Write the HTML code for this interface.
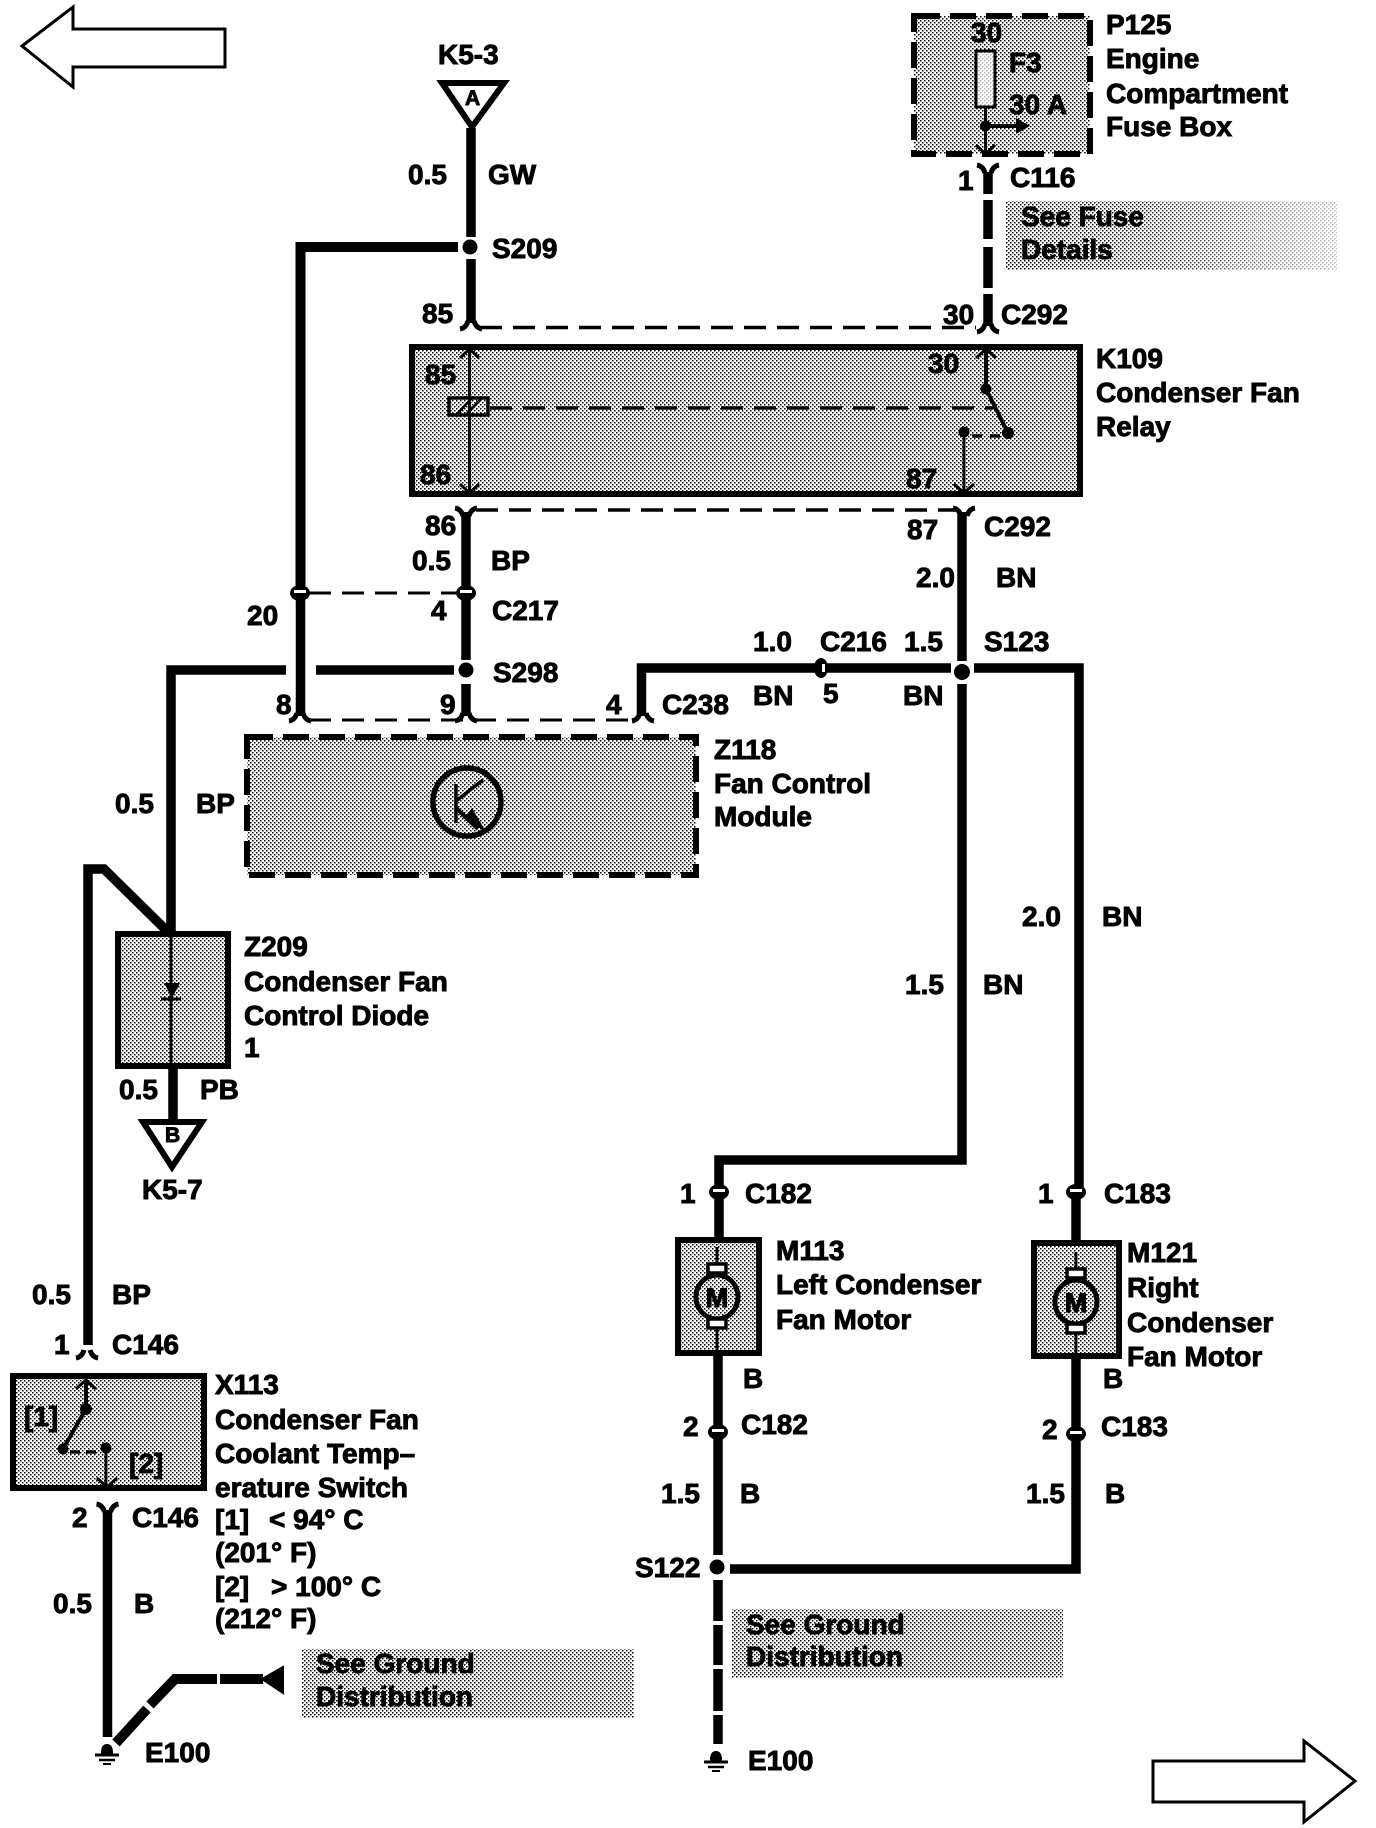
<!DOCTYPE html>
<html><head><meta charset="utf-8"><style>
html,body{margin:0;padding:0;background:#fff;width:1376px;height:1828px;overflow:hidden}
svg{display:block}
text{font-family:"Liberation Sans",sans-serif;font-weight:bold;font-size:28px;fill:#000;stroke:#000;stroke-width:.9px}
.w{fill:none;stroke:#000;stroke-width:9.5;stroke-linejoin:miter}
.t{fill:none;stroke:#000;stroke-width:3}
.d{fill:none;stroke:#000;stroke-width:3.5;stroke-dasharray:22 11}
.b{stroke:#000;stroke-width:6;fill:url(#dots)}
.bd{stroke:#000;stroke-width:6;fill:url(#dots);stroke-dasharray:26 10}
.f{fill:none;stroke:#000;stroke-width:5}
</style></head><body>
<svg width="1376" height="1828" viewBox="0 0 1376 1828" xmlns="http://www.w3.org/2000/svg">
<defs>
<pattern id="dots" width="4" height="4" patternUnits="userSpaceOnUse"><rect width="4" height="4" fill="#fff"/><rect x="0" y="0" width="1.5" height="1.5" fill="#000"/><rect x="2" y="2" width="1.5" height="1.5" fill="#000"/></pattern>
<linearGradient id="fade" x1="0" x2="1" y1="0" y2="0"><stop offset="0" stop-color="#fff" stop-opacity="0"/><stop offset=".4" stop-color="#fff" stop-opacity=".1"/><stop offset="1" stop-color="#fff" stop-opacity=".75"/></linearGradient>
<g id="dn"><path d="M-11 2 Q-5 1 -3 -6 M11 2 Q5 1 3 -6" class="f"/></g>
<g id="up"><path d="M-11 -2 Q-5 -1 -3 6 M11 -2 Q5 -1 3 6" class="f"/></g>
<g id="c"><ellipse rx="10" ry="8" fill="#000"/><rect x="-6" y="-3" width="12" height="3" fill="#fff"/></g>
<g id="gnd"><path d="M-5 8 Q-5 0 0 0 Q5 0 5 8Z" fill="#000" stroke="#000" stroke-width="2"/><path d="M-12 10H12" stroke="#000" stroke-width="3"/><path d="M-8 15H8" stroke="#000" stroke-width="2.5"/><path d="M-4 19H4" stroke="#000" stroke-width="2"/></g>
<g id="motor"><ellipse rx="21" ry="22" fill="none" stroke="#000" stroke-width="5"/><rect x="-9" y="-33" width="18" height="9" fill="#fff" stroke="#000" stroke-width="3.5"/><rect x="-9" y="22" width="18" height="9" fill="#fff" stroke="#000" stroke-width="3.5"/><path d="M0 -50V-33M0 31V55" class="t"/><text x="0" y="10" text-anchor="middle" style="font-size:27px;stroke-width:1.2px">M</text></g>
</defs>

<!-- page arrows -->
<path d="M22 46L73 7V29H225V67H73V87Z" fill="#fff" stroke="#000" stroke-width="3"/>
<path d="M1153 1761H1304V1741L1355 1781L1304 1822V1802H1153Z" fill="#fff" stroke="#000" stroke-width="3"/>

<!-- gray boxes -->
<rect x="1006" y="201" width="331" height="69" fill="url(#dots)"/><rect x="1006" y="201" width="331" height="69" fill="url(#fade)"/>
<rect x="302" y="1649" width="332" height="69" fill="url(#dots)"/>
<rect x="732" y="1609" width="331" height="69" fill="url(#dots)"/>

<!-- component boxes -->
<rect x="412" y="347" width="668" height="147" class="b"/>
<rect x="914" y="16" width="176" height="138" class="bd"/>
<rect x="247" y="737" width="449" height="138" class="bd"/>
<rect x="118" y="934" width="110" height="132" class="b"/>
<rect x="13" y="1376" width="191" height="112" class="b"/>
<rect x="678" y="1240" width="81" height="113" class="b"/>
<rect x="1034" y="1243" width="85" height="113" class="b"/>

<!-- dashed connector bars -->
<path d="M480 327.5H976" class="d"/>
<path d="M476 510H956" class="d"/>
<path d="M309 593H456" class="d" style="stroke-width:3"/>
<path d="M309 720H634" class="d" style="stroke-width:3"/>

<!-- triangles -->
<path d="M442 83H504L472 127Z" fill="#fff" stroke="#000" stroke-width="6"/>
<path d="M143 1122H202L172 1167Z" fill="#fff" stroke="#000" stroke-width="6"/>

<!-- wires -->
<path d="M471 128V237M471 259V323" class="w"/>
<path d="M458 247H300.500V588" class="w" style="stroke-width:10"/>
<path d="M300.500 597V716" class="w"/>
<path d="M466 512V590M466 597V660M466 684V716" class="w"/>
<path d="M286 670H171V932" class="w"/>
<path d="M316 670H454" class="w"/>
<path d="M88 1345V869H104L168 932" class="w"/>
<path d="M173 1066V1121" class="w"/>
<path d="M641.500 716V668H951" class="w"/>
<path d="M962 512V661M962 684V1160H719V1188" class="w"/>
<path d="M974 668H1079V1190" class="w"/>
<path d="M719 1196V1240" class="w"/>
<path d="M1076 1196V1243" class="w"/>
<path d="M718 1354V1426M718 1438V1555" class="w"/>
<path d="M718 1580V1621M718 1625V1665M718 1669V1711M718 1715V1744" class="w"/>
<path d="M730 1569H1076V1358" class="w"/>
<path d="M988 172V194M988 200V239M988 247V288M988 294V326" class="w"/>
<path d="M107.500 1510V1737" class="w"/>
<path d="M116 1743L147 1709M150 1705L175 1679H217M220 1679H263" class="w" style="stroke-width:10"/>
<path d="M262 1679L283 1667V1693Z" fill="#000" stroke="#000" stroke-width="2"/>

<!-- splice dots -->
<circle cx="470" cy="247" r="7.500"/><circle cx="466" cy="670" r="7.500"/><circle cx="962" cy="672" r="8"/><circle cx="717" cy="1567" r="7.500"/>

<!-- connector ends -->
<use href="#dn" x="471" y="327"/><use href="#dn" x="988" y="330"/>
<use href="#up" x="466" y="510"/><use href="#up" x="964" y="510"/>
<use href="#up" x="988" y="167"/><use href="#up" x="107.500" y="1506"/>
<use href="#dn" x="300" y="719"/><use href="#dn" x="466" y="719"/><use href="#dn" x="643" y="719"/>
<use href="#dn" x="87" y="1356"/>
<use href="#c" x="300" y="593"/><use href="#c" x="466" y="593"/>
<use href="#c" x="719" y="1192"/><use href="#c" x="1076" y="1192"/>
<use href="#c" x="718" y="1432"/><use href="#c" x="1076" y="1434"/>
<ellipse cx="821" cy="668" rx="7" ry="10"/><rect x="822" y="664" width="3" height="8" fill="#fff"/>

<!-- K109 internals -->
<path d="M469.500 351V491" class="t"/>
<path d="M460 358L469.500 349L479 358M460 484L469.500 493L479 484" class="t"/>
<rect x="449" y="398" width="39" height="17" fill="none" stroke="#000" stroke-width="3.500"/>
<path d="M456 415L472 398M466 415L482 398" stroke="#000" stroke-width="2.500"/>
<path d="M490 408H993" class="d"/>
<path d="M986 351V389L1008 433" class="t" style="stroke-width:4"/>
<path d="M976 358L986 349L996 358" class="t"/>
<circle cx="986" cy="389" r="5.500"/><circle cx="1008" cy="433" r="6"/><circle cx="964" cy="432" r="5.500"/>
<path d="M964 432V491M954 484L964 493L974 484" class="t"/>
<path d="M972 436H1002" class="d" style="stroke-dasharray:10 8"/>

<!-- P125 internals -->
<rect x="976" y="51" width="19" height="56" fill="#fff" stroke="#000" stroke-width="3" fill-opacity=".7"/>
<path d="M985.500 107V153M976 145L985.500 154L995 145" class="t"/>
<circle cx="985.500" cy="126" r="5.500"/>
<path d="M985 126H1018" stroke="#000" stroke-width="4"/><path d="M1016 118L1030 126L1016 134Z"/>

<!-- Transistor -->
<circle cx="467" cy="802" r="34" fill="none" stroke="#000" stroke-width="5.500"/>
<path d="M456 784V823M456 801L483 780" stroke="#000" stroke-width="3.500" fill="none"/>
<path d="M456 808L478 829" stroke="#000" stroke-width="4"/><path d="M464 818L472 808L486 832Z"/>

<!-- Diode -->
<path d="M171 934V1066" class="t"/>
<path d="M164 983H180L172 998Z"/><path d="M161 999H181" stroke="#000" stroke-width="3"/>

<!-- X113 internals -->
<path d="M86 1382V1409L63 1449" class="t" style="stroke-width:4"/>
<path d="M76 1389L86 1380L96 1389" class="t"/>
<circle cx="86" cy="1409" r="6"/><circle cx="63" cy="1449" r="5.500"/><circle cx="106" cy="1448" r="5.500"/>
<path d="M106 1448V1486M97 1478L107 1487L117 1478" class="t"/>
<path d="M70 1452H98" class="d" style="stroke-dasharray:10 6"/>

<!-- motors -->
<use href="#motor" x="717" y="1297"/><use href="#motor" x="1076" y="1302"/>

<!-- ground -->
<use href="#gnd" x="107" y="1745"/><use href="#gnd" x="716" y="1752"/>

<!-- labels -->
<text x="438" y="64">K5-3</text>
<text x="465" y="105" style="font-size:21px">A</text>
<text x="408" y="184">0.5</text><text x="488" y="184">GW</text>
<text x="492" y="258">S209</text>
<text x="422" y="323">85</text>
<text x="425" y="384">85</text><text x="420" y="484">86</text>
<text x="425" y="535">86</text>
<text x="412" y="570">0.5</text><text x="491" y="570">BP</text>
<text x="247" y="625">20</text><text x="431" y="620">4</text><text x="492" y="620">C217</text>
<text x="493" y="682">S298</text>
<text x="276" y="714">8</text><text x="440" y="714">9</text><text x="606" y="714">4</text><text x="662" y="714">C238</text>

<text x="1106" y="34">P125</text><text x="1106" y="68">Engine</text><text x="1106" y="103">Compartment</text><text x="1106" y="136">Fuse Box</text>
<text x="971" y="42">30</text><text x="1009" y="72">F3</text><text x="1009" y="114">30 A</text>
<text x="958" y="190">1</text><text x="1010" y="187">C116</text>
<text x="1021" y="226">See Fuse</text><text x="1021" y="259">Details</text>
<text x="943" y="324">30</text><text x="1001" y="324">C292</text>
<text x="928" y="373">30</text><text x="906" y="488">87</text>
<text x="1096" y="368">K109</text><text x="1096" y="402">Condenser Fan</text><text x="1096" y="436">Relay</text>
<text x="907" y="539">87</text><text x="984" y="536">C292</text>
<text x="916" y="587">2.0</text><text x="996" y="587">BN</text>

<text x="753" y="651">1.0</text><text x="820" y="651">C216</text><text x="904" y="651">1.5</text><text x="984" y="651">S123</text>
<text x="753" y="705">BN</text><text x="823" y="703">5</text><text x="903" y="705">BN</text>
<text x="714" y="759">Z118</text><text x="714" y="793">Fan Control</text><text x="714" y="826">Module</text>
<text x="115" y="813">0.5</text><text x="196" y="813">BP</text>
<text x="1022" y="926">2.0</text><text x="1102" y="926">BN</text>
<text x="905" y="994">1.5</text><text x="983" y="994">BN</text>
<text x="244" y="956">Z209</text><text x="244" y="991">Condenser Fan</text><text x="244" y="1025">Control Diode</text><text x="244" y="1057">1</text>
<text x="119" y="1099">0.5</text><text x="200" y="1099">PB</text>
<text x="165" y="1142" style="font-size:21px">B</text>
<text x="142" y="1199">K5-7</text>

<text x="680" y="1203">1</text><text x="745" y="1203">C182</text>
<text x="1038" y="1203">1</text><text x="1104" y="1203">C183</text>
<text x="776" y="1260">M113</text><text x="776" y="1294">Left Condenser</text><text x="776" y="1329">Fan Motor</text>
<text x="1127" y="1262">M121</text><text x="1127" y="1297">Right</text><text x="1127" y="1332">Condenser</text><text x="1127" y="1366">Fan Motor</text>
<text x="743" y="1388">B</text><text x="1103" y="1388">B</text>
<text x="683" y="1436">2</text><text x="741" y="1434">C182</text>
<text x="1042" y="1439">2</text><text x="1101" y="1436">C183</text>
<text x="661" y="1503">1.5</text><text x="740" y="1503">B</text>
<text x="1026" y="1503">1.5</text><text x="1105" y="1503">B</text>
<text x="635" y="1577">S122</text>
<text x="746" y="1634">See Ground</text><text x="746" y="1666">Distribution</text>
<text x="748" y="1770">E100</text>

<text x="32" y="1304">0.5</text><text x="112" y="1304">BP</text>
<text x="54" y="1354">1</text><text x="112" y="1354">C146</text>
<text x="215" y="1394">X113</text><text x="215" y="1429">Condenser Fan</text><text x="215" y="1463">Coolant Temp–</text><text x="215" y="1497">erature Switch</text>
<text x="215" y="1529">[1]</text><text x="269" y="1529">&lt; 94° C</text><text x="215" y="1562">(201° F)</text>
<text x="215" y="1596">[2]</text><text x="271" y="1596">&gt; 100° C</text><text x="215" y="1628">(212° F)</text>
<text x="24" y="1426">[1]</text><text x="129" y="1473">[2]</text>
<text x="72" y="1527">2</text><text x="132" y="1527">C146</text>
<text x="53" y="1613">0.5</text><text x="134" y="1613">B</text>
<text x="316" y="1673">See Ground</text><text x="316" y="1706">Distribution</text>
<text x="145" y="1762">E100</text>
</svg>
</body></html>
